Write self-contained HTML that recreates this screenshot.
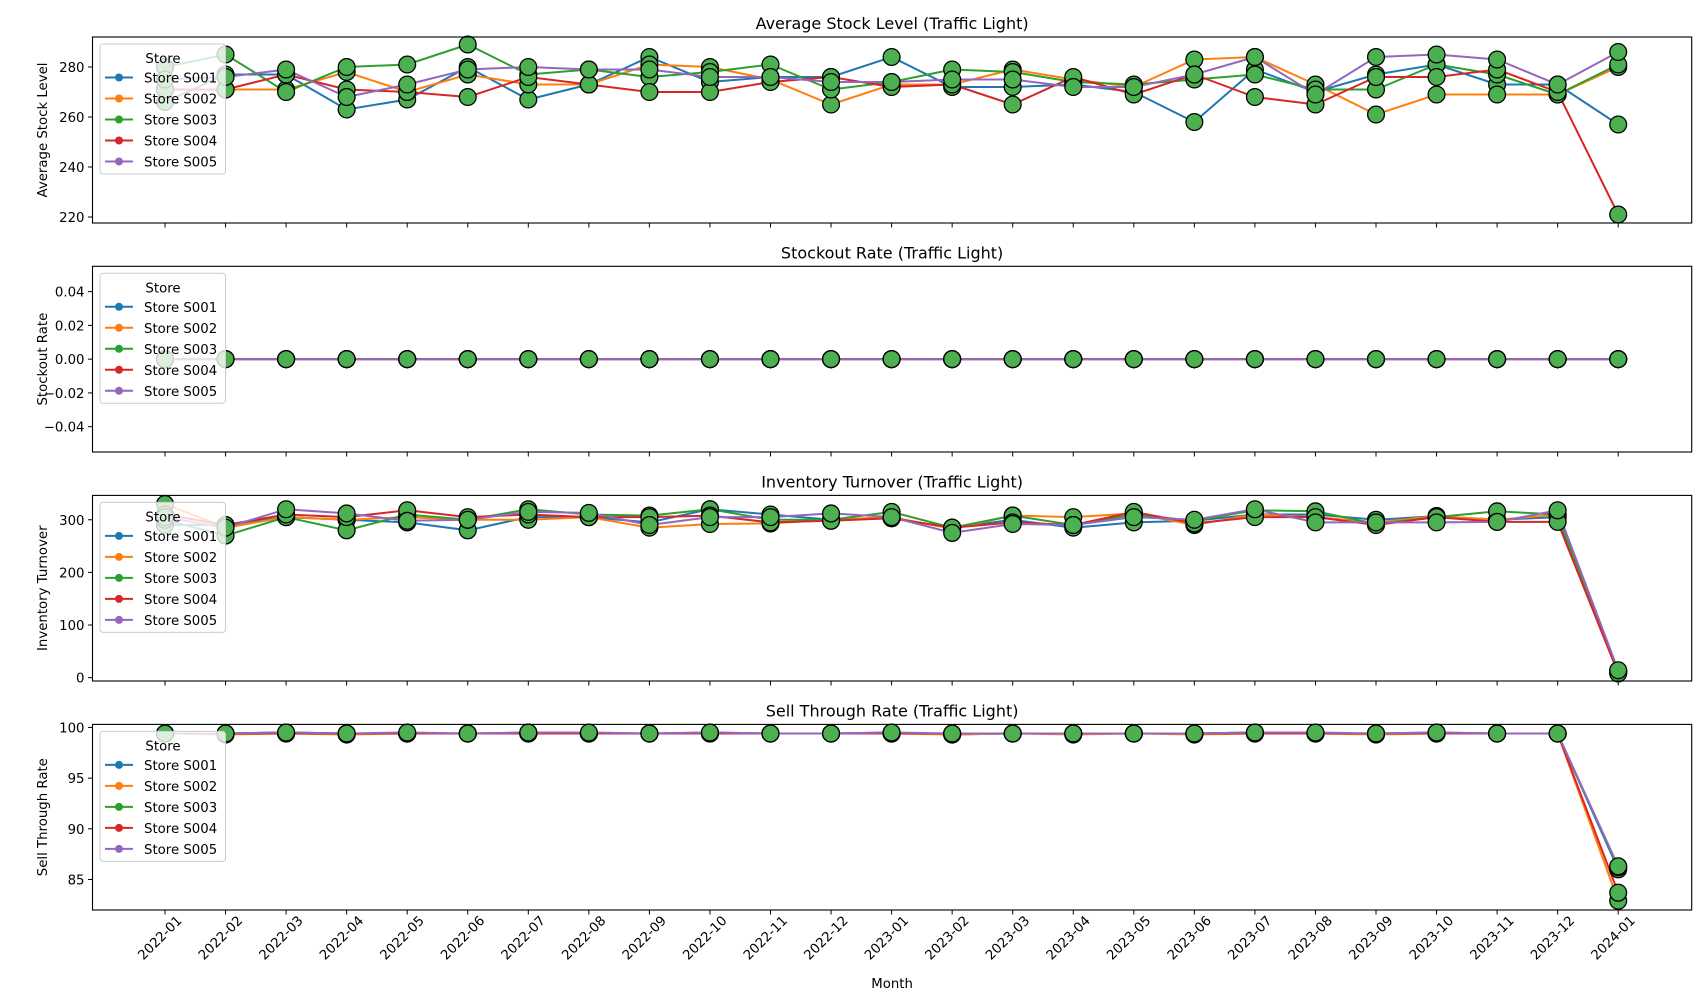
<!DOCTYPE html>
<html><head><meta charset="utf-8">
<style>
html,body{margin:0;padding:0;background:#fff;}
svg{display:block;font-family:"DejaVu Sans","Liberation Sans",sans-serif;}
</style></head>
<body>
<svg id="chart" width="1706" height="1006" viewBox="0 0 1706 1006" xmlns="http://www.w3.org/2000/svg"></svg>
<script>
const months = ["2022-01","2022-02","2022-03","2022-04","2022-05","2022-06","2022-07","2022-08","2022-09","2022-10","2022-11","2022-12","2023-01","2023-02","2023-03","2023-04","2023-05","2023-06","2023-07","2023-08","2023-09","2023-10","2023-11","2023-12","2024-01"];
const stores = ["Store S001","Store S002","Store S003","Store S004","Store S005"];
const storeColors = ["#1f77b4","#ff7f0e","#2ca02c","#d62728","#9467bd"];

const stockS001 = [266,277,277,263,267,280,267,273,284,274,276,276,284,272,272,273,270,258,279,270,277,281,273,273,257];
const stockS002 = [271,271,271,278,270,277,273,273,281,280,275,265,273,273,279,275,272,283,284,273,261,269,269,269,280];
const stockS003 = [280,285,270,280,281,289,277,279,276,278,281,271,274,279,278,274,273,275,277,271,271,281,277,269,281];
const stockS004 = [271,271,277,271,270,268,276,273,270,270,274,276,272,273,265,276,269,277,268,265,276,276,279,270,221];
const stockS005 = [275,276,279,268,273,279,280,279,279,276,276,274,274,275,275,272,272,277,284,269,284,285,283,273,286];

const stockoutS001 = [0,0,0,0,0,0,0,0,0,0,0,0,0,0,0,0,0,0,0,0,0,0,0,0,0];
const stockoutS002 = [0,0,0,0,0,0,0,0,0,0,0,0,0,0,0,0,0,0,0,0,0,0,0,0,0];
const stockoutS003 = [0,0,0,0,0,0,0,0,0,0,0,0,0,0,0,0,0,0,0,0,0,0,0,0,0];
const stockoutS004 = [0,0,0,0,0,0,0,0,0,0,0,0,0,0,0,0,0,0,0,0,0,0,0,0,0];
const stockoutS005 = [0,0,0,0,0,0,0,0,0,0,0,0,0,0,0,0,0,0,0,0,0,0,0,0,0];

const turnS001 = [290,290,305,300,295,280,305,305,295,320,310,300,303,285,300,285,295,298,310,310,300,307,300,305,10];
const turnS002 = [330,285,305,300,305,300,300,305,285,292,293,300,305,283,308,305,312,290,310,305,295,307,300,310,12];
const turnS003 = [300,270,305,280,310,300,320,310,308,320,300,300,315,285,308,290,310,298,318,316,292,305,316,310,12];
const turnS004 = [310,290,310,305,318,305,310,305,305,308,295,298,303,285,295,290,315,293,305,305,290,305,296,296,8];
const turnS005 = [305,285,320,312,298,300,315,313,290,305,305,312,305,275,292,290,305,300,320,295,295,295,296,318,14];

const sellS001 = [99.4,99.4,99.5,99.4,99.4,99.4,99.4,99.4,99.4,99.5,99.4,99.4,99.5,99.3,99.4,99.4,99.4,99.4,99.5,99.4,99.4,99.5,99.4,99.4,86.0];
const sellS002 = [99.4,99.3,99.4,99.3,99.4,99.4,99.4,99.4,99.4,99.4,99.4,99.4,99.4,99.3,99.4,99.3,99.4,99.3,99.4,99.4,99.3,99.4,99.4,99.4,82.9];
const sellS003 = [99.4,99.4,99.5,99.4,99.4,99.4,99.5,99.4,99.4,99.4,99.4,99.4,99.4,99.4,99.4,99.4,99.4,99.4,99.5,99.4,99.4,99.4,99.4,99.4,86.2];
const sellS004 = [99.4,99.4,99.4,99.4,99.4,99.4,99.4,99.4,99.4,99.4,99.4,99.4,99.4,99.4,99.4,99.4,99.4,99.4,99.4,99.4,99.4,99.4,99.4,99.4,83.7];
const sellS005 = [99.4,99.4,99.5,99.4,99.5,99.4,99.5,99.5,99.4,99.5,99.4,99.4,99.5,99.4,99.4,99.4,99.4,99.4,99.5,99.5,99.4,99.5,99.4,99.4,86.3];

const stockTicks = [220,240,260,280];
const stockoutTicks = [-0.04,-0.02,0,0.02,0.04];
const stockoutTickLabels = ["\u22120.04","\u22120.02","0.00","0.02","0.04"];
const turnTicks = [0,100,200,300];
const sellTicks = [85,90,95,100];

const NS = "http://www.w3.org/2000/svg";
const svg = document.getElementById("chart");
function mk(tag, attrs, parent){
  const e = document.createElementNS(NS, tag);
  for (const k in attrs) e.setAttribute(k, attrs[k]);
  (parent||svg).appendChild(e);
  return e;
}
const L = 92.5, R = 1691.7;
const x0 = 165, dx = 60.55;
function xScale(i){ return x0 + i*dx; }

const panels = [
  {key:"stock", title:"Average Stock Level (Traffic Light)", ylabel:"Average Stock Level", top:37, bottom:223, ymin:217.6, ymax:292, ticks:stockTicks, labels:stockTicks.map(String), series:[stockS001,stockS002,stockS003,stockS004,stockS005]},
  {key:"stockout", title:"Stockout Rate (Traffic Light)", ylabel:"Stockout Rate", top:266.3, bottom:452, ymin:-0.055, ymax:0.055, ticks:stockoutTicks, labels:stockoutTickLabels, series:[stockoutS001,stockoutS002,stockoutS003,stockoutS004,stockoutS005]},
  {key:"turnover", title:"Inventory Turnover (Traffic Light)", ylabel:"Inventory Turnover", top:495.4, bottom:681, ymin:-6.4, ymax:346.3, ticks:turnTicks, labels:turnTicks.map(String), series:[turnS001,turnS002,turnS003,turnS004,turnS005]},
  {key:"sell-through", title:"Sell Through Rate (Traffic Light)", ylabel:"Sell Through Rate", top:724.4, bottom:910, ymin:81.99, ymax:100.3, ticks:sellTicks, labels:sellTicks.map(String), series:[sellS001,sellS002,sellS003,sellS004,sellS005]}
];

panels.forEach((p, pi) => {
  const g = mk("g", {});
  
  
  const yScale = v => p.bottom - (v - p.ymin) / (p.ymax - p.ymin) * (p.bottom - p.top);

  const t = mk("text", {x:(L+R)/2, y:p.top-8, "text-anchor":"middle", "font-size":"16", fill:"#000"}, g);
  t.textContent = p.title;
  
  

  const yl = mk("text", {x:0, y:0, "text-anchor":"middle", "font-size":"13.3", fill:"#000", transform:`translate(47,${(p.top+p.bottom)/2}) rotate(-90)`}, g);
  yl.textContent = p.ylabel;
  
  

  p.ticks.forEach((tv, ti) => {
    const y = yScale(tv);
    mk("line", {x1:L-4.5, x2:L, y1:y, y2:y, stroke:"#000", "stroke-width":1}, g);
    const tl = mk("text", {x:L-8, y:y+5, "text-anchor":"end", "font-size":"13.3", fill:"#000"}, g);
    tl.textContent = p.labels[ti];
    
    
  });

  months.forEach((m, i) => {
    const x = xScale(i);
    mk("line", {x1:x, x2:x, y1:p.bottom, y2:p.bottom+4.5, stroke:"#000", "stroke-width":1}, g);
    if (pi === 3) {
      const xl = mk("text", {x:0, y:0, "text-anchor":"middle", "font-size":"13.3", fill:"#000", transform:`translate(${x-2},${p.bottom+31}) rotate(-45)`}, g);
      xl.textContent = m;
      
      
    }
  });

  p.series.forEach((vals, si) => {
    const pts = vals.map((v, i) => xScale(i).toFixed(1) + "," + yScale(v).toFixed(1)).join(" ");
    const pl = mk("polyline", {points:pts, fill:"none", stroke:storeColors[si], "stroke-width":2}, g);
    
    
  });
  p.series.forEach((vals, si) => {
    vals.forEach((v, i) => {
      const c = mk("circle", {cx:xScale(i), cy:yScale(v), r:8.4, fill:"#4caf50", stroke:"#000", "stroke-width":1.3}, g);
      
      
    });
  });

  const frame = mk("rect", {x:L, y:p.top, width:R-L, height:p.bottom-p.top, fill:"none", stroke:"#000", "stroke-width":1.1}, g);
  
  

  const lg = mk("g", {}, g);
  
  
  const ly = p.top + 7;
  mk("rect", {x:100, y:ly, width:125.5, height:130, rx:3, fill:"#fff", "fill-opacity":0.8, stroke:"#ccc", "stroke-width":1}, lg);
  const lt = mk("text", {x:163, y:ly+19, "text-anchor":"middle", "font-size":"13.3", fill:"#000"}, lg);
  lt.textContent = "Store";
  
  
  stores.forEach((s, si) => {
    const yy = ly + 33.5 + si*21;
    const e = mk("g", {}, lg);
    
    
    mk("line", {x1:105, x2:133, y1:yy, y2:yy, stroke:storeColors[si], "stroke-width":2}, e);
    mk("circle", {cx:119, cy:yy, r:4, fill:storeColors[si]}, e);
    const et = mk("text", {x:144, y:yy+5, "font-size":"13.3", fill:"#000"}, e);
    et.textContent = s;
  });
});

const xt = mk("text", {x:(L+R)/2, y:988, "text-anchor":"middle", "font-size":"13.3", fill:"#000"});
xt.textContent = "Month";


</script>
</body></html>
